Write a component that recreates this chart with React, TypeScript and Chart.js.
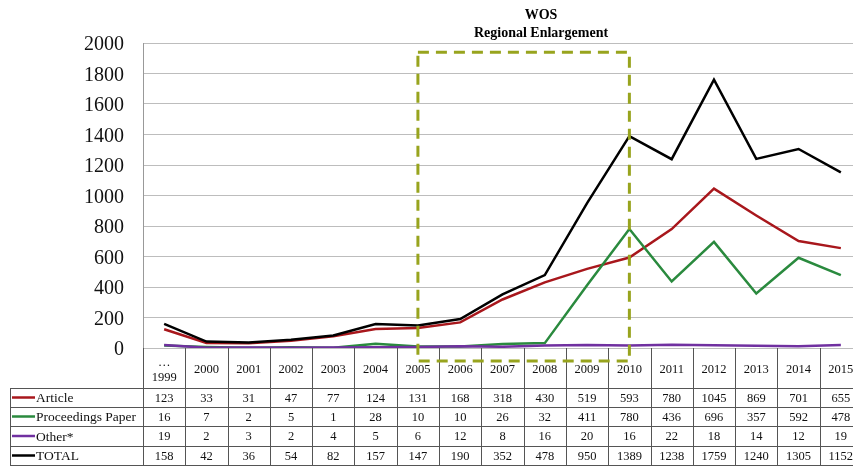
import React, { useEffect, useRef } from "react";
import { Chart, registerables } from "chart.js";

Chart.register(...registerables);

const years = ["1999", "2000", "2001", "2002", "2003", "2004", "2005", "2006", "2007", "2008", "2009", "2010", "2011", "2012", "2013", "2014", "2015"];
const article = [123, 33, 31, 47, 77, 124, 131, 168, 318, 430, 519, 593, 780, 1045, 869, 701, 655];
const proceedings = [16, 7, 2, 5, 1, 28, 10, 10, 26, 32, 411, 780, 436, 696, 357, 592, 478];
const other = [19, 2, 3, 2, 4, 5, 6, 12, 8, 16, 20, 16, 22, 18, 14, 12, 19];
const total = [158, 42, 36, 54, 82, 157, 147, 190, 352, 478, 950, 1389, 1238, 1759, 1240, 1305, 1152];
const yTicks = [0, 200, 400, 600, 800, 1000, 1200, 1400, 1600, 1800, 2000];
const titleLines = ["WOS", "Regional Enlargement"];
const boxFrom = "2005";
const boxTo = "2010";

const seriesNames = ["Article", "Proceedings Paper", "Other*", "TOTAL"];
const seriesData = [article, proceedings, other, total];
const seriesColors = ["#a8171c", "#2a8a3e", "#7030a0", "#000000"];

const SERIF = "'Liberation Serif', 'Times New Roman', serif";

const tablePlugin = {
  id: "tablePlugin",
  afterDraw(chart: any) {
    const ctx = chart.ctx;
    const x = chart.scales.x;
    const y = chart.scales.y;
    const area = chart.chartArea;
    const n = years.length;
    const colW = (area.right - area.left) / n;
    const top = area.bottom;
    const rowLines = [top + 40, top + 59, top + 78, top + 98, top + 117];
    ctx.save();
    // table lines
    ctx.strokeStyle = "#555";
    ctx.lineWidth = 1;
    ctx.beginPath();
    for (let i = 0; i <= n; i++) {
      const px = Math.round(area.left + i * colW) + 0.5;
      ctx.moveTo(px, top);
      ctx.lineTo(px, rowLines[4]);
    }
    ctx.moveTo(10.5, rowLines[0]);
    ctx.lineTo(10.5, rowLines[4]);
    for (const ry of rowLines) {
      ctx.moveTo(10, ry + 0.5);
      ctx.lineTo(area.right, ry + 0.5);
    }
    ctx.stroke();

    // header
    ctx.fillStyle = "#111";
    ctx.font = `12.5px ${SERIF}`;
    ctx.textAlign = "center";
    ctx.textBaseline = "middle";
    years.forEach((yr, i) => {
      const cx = x.getPixelForValue(i);
      if (i === 0) {
        ctx.fillText("…", cx, top + 15);
        ctx.fillText(yr, cx, top + 30);
      } else {
        ctx.fillText(yr, cx, top + 22);
      }
    });
    // rows
    seriesData.forEach((arr, r) => {
      const cy = (rowLines[r] + rowLines[r + 1]) / 2 + 1;
      ctx.font = `12.5px ${SERIF}`;
      ctx.textAlign = "center";
      arr.forEach((v, i) => {
        ctx.fillText(String(v), x.getPixelForValue(i), cy);
      });
      ctx.strokeStyle = seriesColors[r];
      ctx.lineWidth = 2.5;
      ctx.beginPath();
      ctx.moveTo(12, cy - 1);
      ctx.lineTo(35, cy - 1);
      ctx.stroke();
      ctx.textAlign = "left";
      ctx.font = `13.5px ${SERIF}`;
      ctx.fillText(seriesNames[r], 36, cy);
    });

    // dashed box
    const i0 = years.indexOf(boxFrom);
    const i1 = years.indexOf(boxTo);
    const bx0 = x.getPixelForValue(i0);
    const bx1 = x.getPixelForValue(i1);
    const by0 = y.getPixelForValue(1940);
    const by1 = y.getPixelForValue(0) + 13;
    ctx.strokeStyle = "#98a41e";
    ctx.lineWidth = 3;
    ctx.setLineDash([11, 7]);
    ctx.strokeRect(bx0, by0, bx1 - bx0, by1 - by0);
    ctx.setLineDash([]);

    // title
    ctx.fillStyle = "#000";
    ctx.font = `bold 14px ${SERIF}`;
    ctx.textAlign = "center";
    ctx.fillText(titleLines[0], 541, 15);
    ctx.fillText(titleLines[1], 541, 33);
    ctx.restore();
  },
};

export default function App() {
  const ref = useRef<HTMLCanvasElement | null>(null);
  useEffect(() => {
    document.body.style.margin = "0";
    const chart = new Chart(ref.current as HTMLCanvasElement, {
      type: "line",
      data: {
        labels: years,
        datasets: seriesData.map((d, i) => ({
          label: seriesNames[i],
          data: d,
          borderColor: seriesColors[i],
          backgroundColor: seriesColors[i],
          borderWidth: 2.5,
          pointRadius: 0,
          tension: 0,
          order: i === 3 ? 0 : 4 - i,
        })),
      },
      options: {
        responsive: false,
        animation: false,
        layout: { padding: { left: 0, top: 43, right: 0, bottom: 124 } },
        plugins: { legend: { display: false }, title: { display: false }, tooltip: { enabled: false } },
        scales: {
          x: {
            display: false,
            offset: true,
            grid: { display: false },
          },
          y: {
            min: 0,
            max: 2000,
            afterFit: (s: any) => { s.width = 143; },
            afterBuildTicks: (s: any) => { s.ticks = yTicks.map((v) => ({ value: v })); },
            ticks: {
              color: "#111",
              padding: 19,
              labelOffset: 2,
              font: { family: SERIF, size: 20 },
              callback: (v: any) => String(v),
            },
            grid: { color: "#bdbdbd", drawTicks: false, lineWidth: 1 },
            border: { display: true, color: "#999" },
          },
        },
      },
      plugins: [tablePlugin],
    });
    return () => chart.destroy();
  }, []);
  return (
    <div style={{ width: 853, height: 472, overflow: "hidden" }}>
      <canvas ref={ref} width={862} height={472} style={{ display: "block" }} />
    </div>
  );
}
